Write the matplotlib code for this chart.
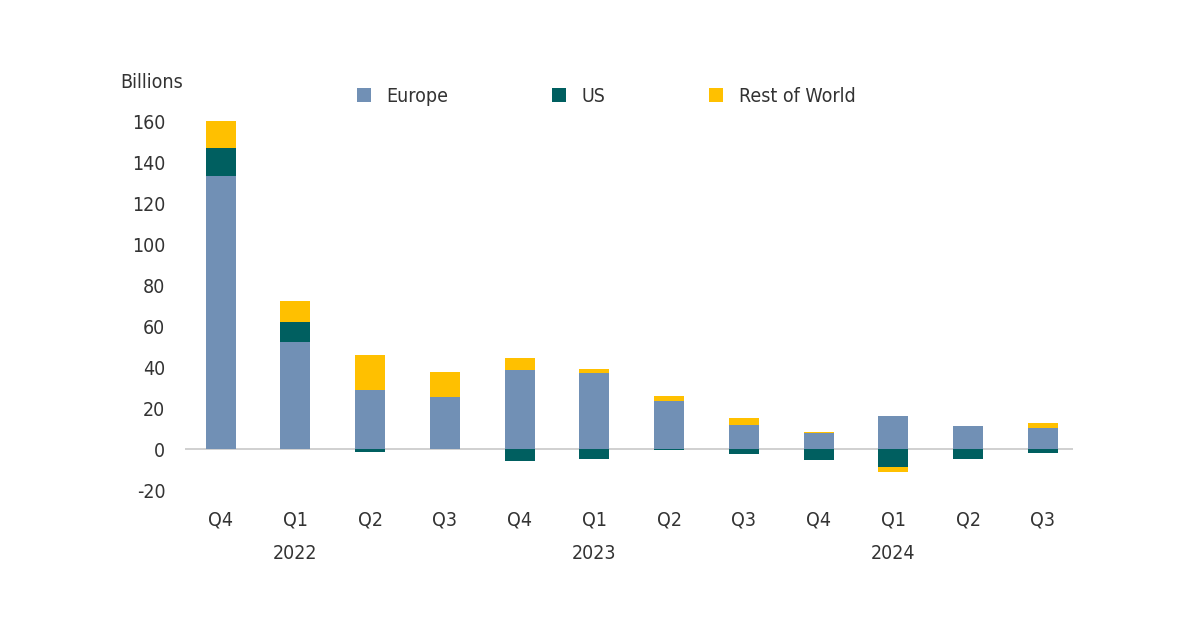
import matplotlib
matplotlib.use("Agg")
import matplotlib.pyplot as plt
from matplotlib.patches import Patch
import numpy as np

quarters = ["Q4", "Q1", "Q2", "Q3", "Q4", "Q1", "Q2", "Q3", "Q4", "Q1", "Q2", "Q3"]
years = {1: "2022", 5: "2023", 9: "2024"}
europe = [133, 52, 29, 25.5, 38.5, 37, 23.5, 11.7, 7.6, 16, 11, 10.2]
us = [14, 10, -1.5, 0, -6, -4.7, -0.5, -2.5, -5.2, -9, -4.7, -2]
row = [13, 10, 17, 12, 6, 2, 2.4, 3.6, 0.5, -2, 0, 2.5]
series = [("Europe", europe, "#7190B5"), ("US", us, "#005F60"), ("Rest of World", row, "#FFC000")]

plt.rcParams['font.family'] = ['DejaVu Sans']
plt.rcParams['font.stretch'] = 'condensed'
plt.rcParams['axes.unicode_minus'] = False
fig = plt.figure(figsize=(12, 6.27), dpi=100)
ax = fig.add_axes([0.154, 0.2185, 0.74, 0.5885])

x = np.arange(len(quarters))
pos_bottom = np.zeros(len(x))
neg_bottom = np.zeros(len(x))
for name, vals, color in series:
    v = np.array(vals, dtype=float)
    bottom = np.where(v >= 0, pos_bottom, neg_bottom)
    ax.bar(x, v, 0.4, bottom=bottom, color=color, zorder=3)
    pos_bottom += np.where(v >= 0, v, 0)
    neg_bottom += np.where(v < 0, v, 0)

ax.axhline(0, color="#c8c8c8", lw=1.2, zorder=2)
ax.set_xlim(-0.48, 11.4)
ax.set_ylim(-20, 160)
ax.set_yticks(range(-20, 161, 20))
for s in ax.spines.values():
    s.set_visible(False)
ax.tick_params(axis='both', length=0, labelsize=14, colors="#333333")
ax.tick_params(axis='y', pad=14)
ax.set_xticks(x)
ax.set_xticklabels(quarters)
ax.tick_params(axis='x', pad=15)
for i, yr in years.items():
    ax.text(i, -0.146, yr, transform=ax.get_xaxis_transform(), ha='center', va='top',
            fontsize=14, color="#333333")

fig.text(0.1, 0.868, "Billions", fontsize=14, color="#333333", va='center')

handles = [Patch(facecolor=c, label=n) for n, _, c in series]
fig.legend(handles=handles, loc='center left', bbox_to_anchor=(0.283, 0.846), ncol=3,
           frameon=False, fontsize=14, handlelength=0.7, handleheight=0.7,
           columnspacing=5.35, handletextpad=0.8, labelcolor="#333333")

fig.savefig("out.png", dpi=100, facecolor="white")
